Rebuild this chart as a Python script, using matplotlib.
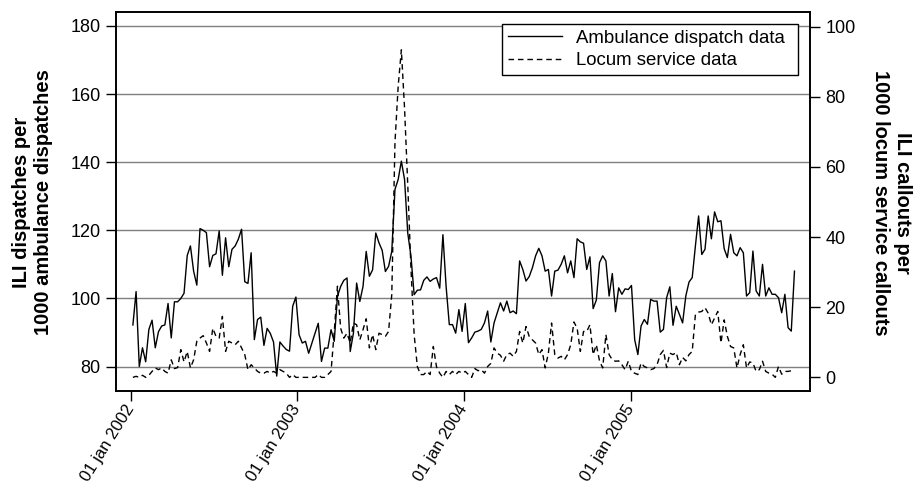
import matplotlib
matplotlib.use('Agg')
import matplotlib.pyplot as plt
import pandas as pd

plt.rcParams['font.family'] = ['Liberation Sans', 'DejaVu Sans']

# ---------------- data ----------------
start_date = '2002-01-06'

ambulance = [
    # 2002
    92.2, 102, 80, 85.5, 81.4, 90.9, 93.6, 85.5, 90.2, 91.9, 92.2, 98.5, 88.4,
    99, 99, 100, 101.5, 112.6, 115.4, 108, 103.9, 120.5, 120, 119.3, 109.3,
    112.6, 113.1, 119.8, 106.8, 117.8, 109.3, 114.4, 115.4, 117.4, 120.3,
    104.9, 104.4, 113.4, 87.9, 93.8, 94.5, 86.2, 91.2, 89.7, 87.2, 77.2, 87.2,
    86, 85, 84.5, 97.7,
    # 2003
    100.4, 89.3, 86.9, 87.4, 83.9, 86.9, 89.8, 92.7, 81.5, 85.4, 85.4, 90.8,
    87.4, 100.6, 103.5, 105.3, 106, 84.4, 89.8, 104.5, 99.1, 103.5, 113.8,
    106.5, 108.4, 119.2, 116.3, 114.1, 107.9, 109.4, 113.8, 132, 134.9, 140.3,
    134.9, 119.2, 112.4, 101.1, 102.4, 102.5, 105.3, 106.3, 105, 105.7, 106.1,
    103, 118.7, 103.5, 92.3, 92.3, 89.8, 96.7, 90.3,
    # 2004
    98.5, 87, 88.4, 90.1, 90.4, 90.9, 92.8, 96.3, 87.2, 92.8, 95.8, 98.7, 96.3,
    99.2, 95.8, 96.3, 95.5, 111, 108.5, 105.1, 106.4, 109, 112.5, 114.7, 112.5,
    108, 108.5, 100.7, 108, 108.3, 110, 112.5, 107.5, 111, 106.1, 117.5, 116.6,
    116.2, 108.5, 112.2, 97, 99.5, 110.5, 112.5, 111, 100.7, 107.3, 96.1, 103.1,
    101.2, 102.8, 102.6, 103.8,
    # 2005
    87.9, 83.5, 91.9, 93.8, 92.4, 99.7, 99.2, 99.2, 90.1, 90.9, 100.2, 103.4,
    92.1, 97.7, 95.3, 92.8, 100.7, 104.8, 106.1, 115.4, 124.2, 112.9, 114.4,
    124.2, 117.5, 125.4, 122.5, 122.8, 114.6, 112, 118.8, 113.4, 112.5, 114.9,
    113.4, 100.7, 101.7, 113.9, 102.2, 100.7, 110, 100.7, 103.1, 101.2, 101.2,
    100.2, 95.8, 101.2, 91.4, 90.4, 108,
]

locum = [
    # 2002
    0, 0.3, 0, 0.6, 0, 0.6, 1.7, 2.7, 2.2, 2.7, 1.7, 1.2, 5, 2.5, 2.8, 7.9, 4.4,
    7.4, 2.7, 5, 10.3, 11.2, 11.9, 9.8, 7.4, 14, 11.7, 11.2, 17.4, 7.4, 10.3,
    9.8, 9.3, 10.3, 8.4, 6.5, 2.2, 3.6, 2.7, 1.7, 1.2, 1.2, 1.7, 1.2, 1.7, 1.2,
    2.2, 1.7, 1.2, 0, 0.8,
    # 2003
    0, 0, 0, 0, 0, 0, 0, 0.8, 0, 0, 0.8, 1.7, 13, 26, 14, 11.2, 12.6, 9.8, 15.5,
    15, 10.7, 13.6, 16.7, 8.4, 12.2, 7.9, 12.6, 12.2, 11.7, 13.1, 23.6, 67, 83,
    93.4, 76.7, 54.9, 31.1, 12.2, 3.1, 0.8, 0.8, 1.7, 0.8, 8.8, 3, 1.2, 0, 1.7,
    0.8, 1.7, 0.8, 1.7, 1.2,
    # 2004
    1.7, 0.8, 0, 2.5, 1.9, 2.2, 1.2, 3.1, 4, 8.4, 6.9, 6.3, 4.6, 6.5, 6.9, 6,
    7.4, 13.1, 9.8, 14.5, 11.7, 10.7, 9.8, 6.5, 7.9, 2.7, 6.9, 15.5, 6.5, 5.5,
    6, 5, 6.5, 9.3, 15.8, 14, 7.4, 13.1, 13.1, 15, 6.5, 9.3, 4.7, 2.7, 12.2,
    6.5, 5, 4.6, 4.7, 3.6, 2.2, 4.6, 1.7,
    # 2005
    1.2, 0.8, 4.1, 3.1, 2.7, 2.2, 2.5, 3.6, 6.5, 7.7, 2.8, 6.9, 6.5, 7.1, 3.6,
    5.7, 4.7, 6.5, 7.4, 17.9, 18.6, 18.8, 19.9, 18.3, 15, 16.9, 18.8, 9.8, 16.4,
    11.7, 8.8, 8.4, 2.7, 6.5, 9.3, 2.7, 4.4, 4.1, 1.7, 2.2, 4.6, 1.7, 1.2, 0.9,
    0, 3.1, 0.9, 1.7, 1.7, 1.9, 1.7,
]

series_labels = ['Ambulance dispatch data', 'Locum service data']
tick_dates = ['2002-01-01', '2003-01-01', '2004-01-01', '2005-01-01']
tick_labels = ['01 jan 2002', '01 jan 2003', '01 jan 2004', '01 jan 2005']
left_ticks = [80, 100, 120, 140, 160, 180]
right_ticks = [0, 20, 40, 60, 80, 100]
left_label = 'ILI dispatches per\n1000 ambulance dispatches'
right_label = 'ILI callouts per\n1000 locum service callouts'

n = min(len(ambulance), len(locum))
dates = pd.date_range(start_date, periods=n, freq='7D')

# ---------------- figure ----------------
W, H = 914, 487
fig = plt.figure(figsize=(W / 100, H / 100), dpi=100)
L, R, T, B = 116, 810, 12.3, 390.7
ax = fig.add_axes([L / W, 1 - B / H, (R - L) / W, (B - T) / H])
ax2 = ax.twinx()

ax.grid(axis='y', color='#7f7f7f', linewidth=1.0, zorder=0)
ax.set_axisbelow(True)

l1, = ax.plot(dates, ambulance[:n], color='black', linewidth=1.0,
              label=series_labels[0])
l2, = ax2.plot(dates, locum[:n], color='black', linewidth=1.0,
               linestyle=(0, (4, 2.8)), label=series_labels[1])

ax.set_ylim(72.9, 184.0)
ax2.set_ylim(-3.8, 104.1)
ax.set_yticks(left_ticks)
ax2.set_yticks(right_ticks)
ax.set_xlim(pd.Timestamp('2001-11-30'), pd.Timestamp('2006-01-28'))
ax.set_xticks(pd.to_datetime(tick_dates))

for a in (ax, ax2):
    a.tick_params(axis='both', direction='out', length=7, width=1.0,
                  labelsize=13, colors='black', pad=4)
    for s in a.spines.values():
        s.set_linewidth(1.2)
        s.set_color('black')

ax.tick_params(axis='x', pad=4)
ax.set_xticklabels(tick_labels, rotation=58, ha='right', va='center',
                   rotation_mode='anchor', fontsize=12)

fig.text(32.5 / W, 1 - 202 / H, left_label, rotation=90, ha='center',
         va='center', fontsize=14.5, fontweight='bold', linespacing=1.25,
         multialignment='center')
fig.text(891.5 / W, 1 - 203 / H, right_label, rotation=270, ha='center',
         va='center', fontsize=14.5, fontweight='bold', linespacing=1.25,
         multialignment='center')

# legend box spans x 502..798, top at y 24 (figure pixels)
lx0 = (502 - L) / (R - L)
lx1 = (798 - L) / (R - L)
ly1 = (B - 24) / (B - T)
leg = ax2.legend([l1, l2], series_labels, loc='upper right', fontsize=13.4,
                 frameon=True, fancybox=False, framealpha=1, edgecolor='black',
                 handlelength=2.95, handletextpad=0.75, borderaxespad=0,
                 borderpad=0.3, labelspacing=0.3, mode='expand',
                 bbox_to_anchor=(lx0, ly1 - 0.15, lx1 - lx0, 0.15))
leg.get_frame().set_linewidth(1.0)

fig.savefig('out.png', dpi=100)
